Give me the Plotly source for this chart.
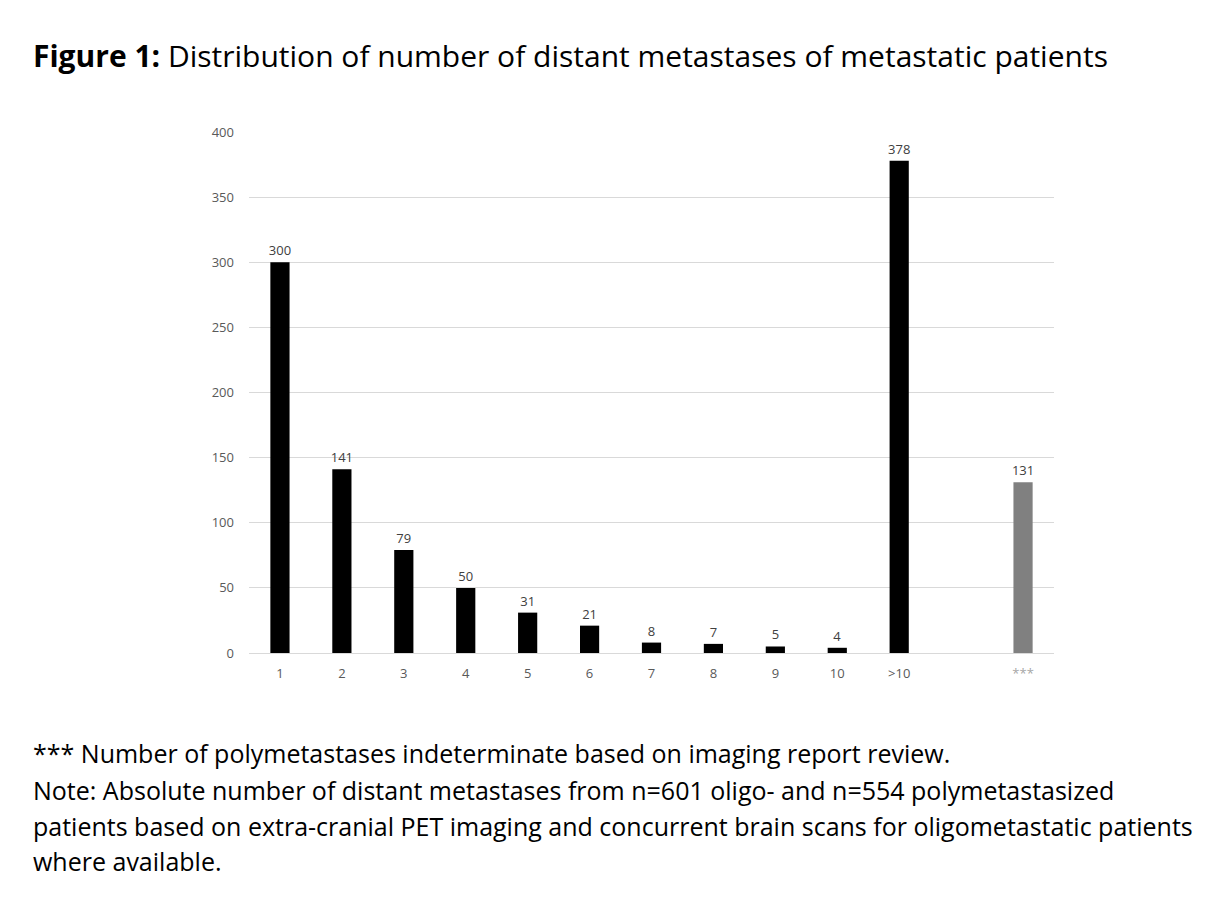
import plotly.graph_objects as go

categories = ["1", "2", "3", "4", "5", "6", "7", "8", "9", "10", ">10", " ", "***"]
counts = [300, 141, 79, 50, 31, 21, 8, 7, 5, 4, 378, None, 131]
colors = ["#000000"] * 12 + ["#808080"]

labels = ["" if v is None else str(v) for v in counts]
tick_text = [c if c != "***" else "<span style='color:#a6a6a6'>***</span>" for c in categories]

fig = go.Figure()
fig.add_trace(go.Bar(
    x=categories, y=counts, width=0.31,
    marker=dict(color=colors, line=dict(width=0)),
    text=labels, textposition="outside", cliponaxis=False, constraintext="none",
    textfont=dict(family="Open Sans", size=13, color="#404040"),
))

# page body has an 8px margin, so work in screen pixels and shift
OFF = 8
W, H = 1226, 898
L, R, T, B = 249, 1054, 132, 653


def px(x):
    return (x - L) / (R - L)


def py(y):
    return (B - y) / (B - T)


fig.add_annotation(
    x=px(31), y=py(56), xref="paper", yref="paper", xanchor="left", yanchor="middle",
    text="<b>Figure 1:</b> Distribution of number of distant metastases of metastatic patients",
    showarrow=False, font=dict(family="Open Sans", size=30, color="#000000"),
)

notes = [
    "*** Number of polymetastases indeterminate based on imaging report review.",
    "Note: Absolute number of distant metastases from n=601 oligo- and n=554 polymetastasized",
    "patients based on extra-cranial PET imaging and concurrent brain scans for oligometastatic patients",
    "where available.",
]
note_y = [753, 790, 826, 861]
for line, yy in zip(notes, note_y):
    fig.add_annotation(
        x=px(31), y=py(yy), xref="paper", yref="paper", xanchor="left", yanchor="middle",
        text=line, showarrow=False, font=dict(family="Open Sans", size=25, color="#000000"),
    )

fig.update_layout(
    width=W - OFF, height=H - OFF,
    margin=dict(l=L - OFF, r=W - R, t=T - OFF, b=H - B),
    plot_bgcolor="white", paper_bgcolor="white",
    showlegend=False,
    font=dict(family="Open Sans", size=13, color="#595959"),
    xaxis=dict(type="category", showline=True, linecolor="#d9d9d9", linewidth=1,
               tickvals=categories, ticktext=tick_text,
               ticks="", ticklabelstandoff=8, tickfont=dict(size=13, color="#595959")),
    yaxis=dict(range=[0, 400], dtick=50, showgrid=True, gridcolor="#d9d9d9",
               zeroline=False, ticks="", ticklabelstandoff=14,
               tickfont=dict(size=13, color="#595959")),
)

fig.write_html("out.html")
